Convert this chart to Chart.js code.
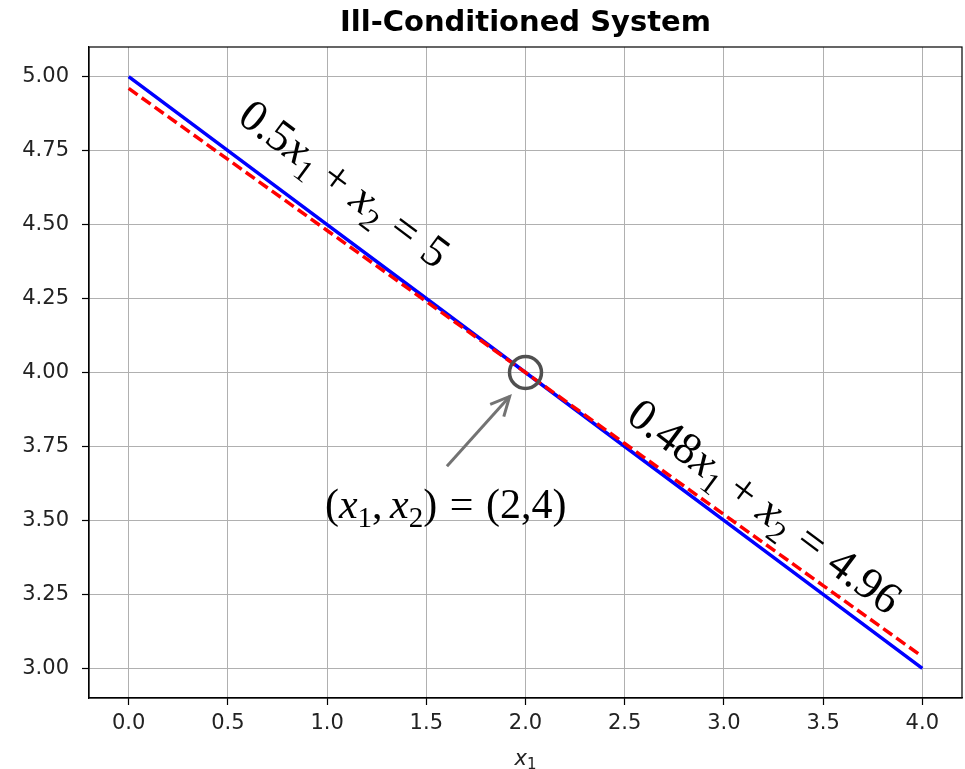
<!DOCTYPE html>
<html>
<head>
<meta charset="utf-8">
<script src="https://cdn.jsdelivr.net/npm/chart.js@4.4.0/dist/chart.umd.min.js"></script>
<style>
  html, body { margin: 0; padding: 0; background: #fff; }
</style>
</head>
<body>
<canvas id="chart" width="965" height="769"></canvas>
<script>
// values
const xValues = [0, 0.5, 1, 1.5, 2, 2.5, 3, 3.5, 4];
const blueLine = [5.0, 4.75, 4.5, 4.25, 4.0, 3.75, 3.5, 3.25, 3.0];    // 0.5x1 + x2 = 5
const redLine = [4.96, 4.72, 4.48, 4.24, 4.0, 3.76, 3.52, 3.28, 3.04]; // 0.48x1 + x2 = 4.96
const xTicks = [0, 0.5, 1, 1.5, 2, 2.5, 3, 3.5, 4];
const yTicks = [3.0, 3.25, 3.5, 3.75, 4.0, 4.25, 4.5, 4.75, 5.0];
const solution = [2, 4];

const sans = '"DejaVu Sans", sans-serif';
const serif = '"Liberation Serif", "Times New Roman", serif';

// parts: [text, kind] kind = r (roman), i (italic), s (subscript), g (gap in em)
const eq1 = [["0.5", "r"], ["x", "i"], ["1", "s"], [0.24, "g"], ["+", "r"], [0.24, "g"],
  ["x", "i"], ["2", "s"], [0.3, "g"], ["=", "r"], [0.3, "g"], ["5", "r"]];
const eq2 = [["0.48", "r"], ["x", "i"], ["1", "s"], [0.24, "g"], ["+", "r"], [0.24, "g"],
  ["x", "i"], ["2", "s"], [0.3, "g"], ["=", "r"], [0.3, "g"], ["4.96", "r"]];
const eq3 = [["(", "r"], ["x", "i"], ["1", "s"], [",", "r"], [0.18, "g"], ["x", "i"], ["2", "s"],
  [")", "r"], [0.3, "g"], ["=", "r"], [0.3, "g"], ["(2,4)", "r"]];

function partFont(kind, size, family) {
  if (kind === "i") return "italic " + size + "px " + family;
  if (kind === "s") return Math.round(size * 0.7) + "px " + family;
  return size + "px " + family;
}

function mathWidth(ctx, parts, size, family) {
  let w = 0;
  parts.forEach(([t, k]) => {
    if (k === "g") { w += t * size; return; }
    ctx.font = partFont(k, size, family);
    w += ctx.measureText(t).width;
  });
  return w;
}

// draws math text centred on (0,0) of the current transform
function drawMath(ctx, parts, size, family) {
  let x = -mathWidth(ctx, parts, size, family) / 2;
  const base = size * 0.3;
  ctx.textBaseline = "alphabetic";
  ctx.textAlign = "left";
  parts.forEach(([t, k]) => {
    if (k === "g") { x += t * size; return; }
    ctx.font = partFont(k, size, family);
    const dy = k === "s" ? size * 0.22 : 0;
    ctx.fillText(t, x, base + dy);
    x += ctx.measureText(t).width;
  });
}

const annotations = {
  id: "annotations",
  afterDatasetsDraw(chart) {
    const ctx = chart.ctx;
    const xs = chart.scales.x, ys = chart.scales.y;
    const px = (v) => xs.getPixelForValue(v);
    const py = (v) => ys.getPixelForValue(v);
    const area = chart.chartArea;

    // frame
    ctx.save();
    ctx.strokeStyle = "#000";
    ctx.lineWidth = 1.2;
    ctx.strokeRect(area.left, area.top, area.right - area.left, area.bottom - area.top);
    ctx.restore();

    // line angle on screen
    const ang = Math.atan2(py(blueLine[blueLine.length - 1]) - py(blueLine[0]),
      px(xValues[xValues.length - 1]) - px(xValues[0]));

    ctx.save();
    ctx.fillStyle = "#000";
    ctx.translate(px(1.085), py(4.635));
    ctx.rotate(ang);
    drawMath(ctx, eq1, 45, serif);
    ctx.restore();

    ctx.save();
    ctx.fillStyle = "#000";
    ctx.translate(px(3.203), py(3.545));
    ctx.rotate(ang);
    drawMath(ctx, eq2, 45, serif);
    ctx.restore();

    ctx.save();
    ctx.fillStyle = "#000";
    ctx.translate(px(1.598), py(3.55));
    drawMath(ctx, eq3, 42, serif);
    ctx.restore();

    // circle around the solution
    ctx.save();
    ctx.strokeStyle = "#505050";
    ctx.lineWidth = 3.5;
    ctx.beginPath();
    ctx.arc(px(solution[0]), py(solution[1]), 16, 0, Math.PI * 2);
    ctx.stroke();

    // arrow
    const x0 = px(1.604), y0 = py(3.683), x1 = px(1.92), y1 = py(3.919);
    const a = Math.atan2(y1 - y0, x1 - x0);
    ctx.strokeStyle = "#737373";
    ctx.lineWidth = 3;
    ctx.lineCap = "butt";
    ctx.beginPath();
    ctx.moveTo(x0, y0);
    ctx.lineTo(x1, y1);
    ctx.stroke();
    ctx.beginPath();
    ctx.moveTo(x1 - 21 * Math.cos(a - 0.45), y1 - 21 * Math.sin(a - 0.45));
    ctx.lineTo(x1, y1);
    ctx.lineTo(x1 - 21 * Math.cos(a + 0.45), y1 - 21 * Math.sin(a + 0.45));
    ctx.stroke();
    ctx.restore();
  },
  afterDraw(chart) {
    const ctx = chart.ctx;
    const area = chart.chartArea;
    const cx = (area.left + area.right) / 2;
    ctx.save();
    ctx.fillStyle = "#000";
    ctx.textAlign = "center";
    ctx.textBaseline = "alphabetic";
    ctx.font = "bold 29px " + sans;
    ctx.fillText("Ill-Conditioned System", cx, 31);

    // x label: x_1
    ctx.fillStyle = "#222";
    ctx.textAlign = "left";
    ctx.font = "italic 21px " + sans;
    const wx = ctx.measureText("x").width;
    ctx.font = "15px " + sans;
    const w1 = ctx.measureText("1").width;
    const sx = cx - (wx + w1) / 2;
    ctx.font = "italic 21px " + sans;
    ctx.fillText("x", sx, 765);
    ctx.font = "15px " + sans;
    ctx.fillText("1", sx + wx, 769);
    ctx.restore();
  }
};

new Chart(document.getElementById("chart"), {
  type: "line",
  data: {
    datasets: [
      {
        label: "0.48x1 + x2 = 4.96",
        data: xValues.map((x, i) => ({ x: x, y: redLine[i] })),
        borderColor: "#ff0000",
        borderWidth: 3.5,
        borderDash: [11, 5],
        pointRadius: 0,
        fill: false,
        tension: 0
      },
      {
        label: "0.5x1 + x2 = 5",
        data: xValues.map((x, i) => ({ x: x, y: blueLine[i] })),
        borderColor: "#0000ff",
        borderWidth: 3.5,
        pointRadius: 0,
        fill: false,
        tension: 0
      }
    ]
  },
  options: {
    responsive: false,
    animation: false,
    devicePixelRatio: 1,
    layout: { padding: { left: 0, right: 3, top: 47, bottom: 0 } },
    plugins: {
      legend: { display: false },
      title: { display: false },
      tooltip: { enabled: false }
    },
    scales: {
      x: {
        type: "linear",
        min: -0.2,
        max: 4.2,
        afterBuildTicks: (s) => { s.ticks = xTicks.map((v) => ({ value: v })); },
        afterFit: (s) => { s.height = 71; },
        grid: { color: "#b0b0b0", lineWidth: 1, tickLength: 7, tickColor: "#000", tickWidth: 1.2 },
        border: { display: true, color: "#000", width: 1.2 },
        ticks: {
          autoSkip: false,
          maxRotation: 0,
          padding: 6,
          color: "#222",
          font: { family: sans, size: 21 },
          callback: (v) => Number(v).toFixed(1)
        }
      },
      y: {
        type: "linear",
        min: 2.9,
        max: 5.1,
        afterBuildTicks: (s) => { s.ticks = yTicks.map((v) => ({ value: v })); },
        afterFit: (s) => { s.width = 89; },
        grid: { color: "#b0b0b0", lineWidth: 1, tickLength: 7, tickColor: "#000", tickWidth: 1.2 },
        border: { display: true, color: "#000", width: 1.2 },
        ticks: {
          autoSkip: false,
          padding: 13,
          color: "#222",
          font: { family: sans, size: 21 },
          callback: (v) => Number(v).toFixed(2)
        }
      }
    }
  },
  plugins: [annotations]
});
</script>
</body>
</html>
